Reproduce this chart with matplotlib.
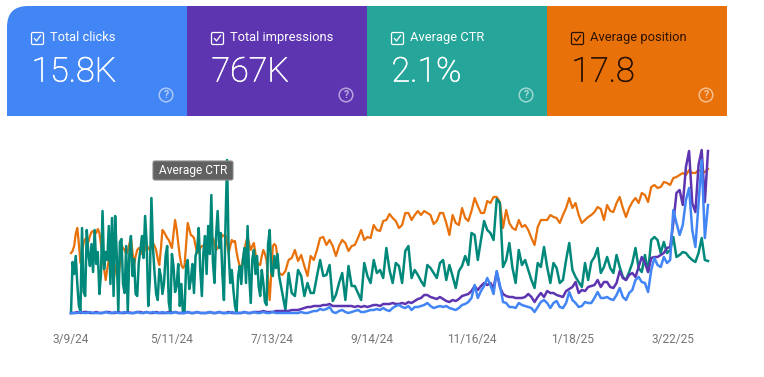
import matplotlib
matplotlib.use('Agg')
import matplotlib.pyplot as plt
import matplotlib.patheffects as pe
import numpy as np
import pandas as pd
from matplotlib.patches import FancyBboxPatch, PathPatch, Circle, Rectangle
from matplotlib.path import Path

plt.rcParams['font.family'] = ['Roboto', 'DejaVu Sans']

START = '2024-03-09'
END = '2025-04-13'

TICK_DATES = ['2024-03-09', '2024-05-11', '2024-07-13', '2024-09-14',
              '2024-11-16', '2025-01-18', '2025-03-22']
TICK_LABELS = ['3/9/24', '5/11/24', '7/13/24', '9/14/24', '11/16/24', '1/18/25', '3/22/25']

CARD_NAMES = ['Total clicks', 'Total impressions', 'Average CTR', 'Average position']
CARD_VALUES = ['15.8K', '767K', '2.1%', '17.8']
CARD_COLOURS = ['#4285F4', '#5E35B1', '#26A69A', '#E8710A']
CARD_TEXT = ['white', 'white', 'white', '#2b1200']

# each metric has its own scale in the original, values here are relative heights
clicks = [
    1, 1, 1, 2, 1, 1, 2, 1, 1, 1, 1, 2, 1, 1, 2, 1, 1, 2, 1, 1,
    1, 2, 1, 1, 2, 1, 2, 1, 1, 2, 1, 1, 1, 2, 1, 1, 1, 2, 1, 1,
    2, 1, 1, 1, 2, 1, 1, 2, 1, 1, 1, 2, 1, 1, 1, 2, 1, 1, 2, 1,
    1, 2, 1, 1, 2, 1, 1,
    1, 1, 1, 1, 1, 1, 2, 1, 1, 2, 3, 3, 5, 4, 5, 7, 2, 1, 3, 4,
    2, 1, 2, 3, 4, 2, 2, 3, 4, 4, 5, 4, 6, 4, 3, 6, 8, 9, 7, 6,
    8, 4, 7, 7, 8, 9, 11, 8, 6, 7, 8, 7, 8, 6, 5, 4, 6, 9, 10, 12,
    16, 29, 16, 23, 28, 36,
    29, 20, 43, 29, 12, 11, 7, 7, 6, 11, 9, 8, 7, 6, 2, 7, 12, 14, 11, 6,
    11, 13, 7, 6, 11, 22, 14, 11, 7, 8, 12, 11, 11, 16, 22, 16, 16, 17, 15, 14,
    19, 26, 17, 14, 21, 24, 34, 37, 32, 31, 22, 44, 56, 49, 47, 57, 51, 54, 104, 91,
    79, 89, 114, 126, 84, 67, 111, 154, 76, 109,
]
impressions = [
    1, 1, 2, 1, 2, 2, 1, 1, 2, 1, 1, 2, 2, 1, 1, 2, 1, 1, 2, 1,
    1, 2, 2, 1, 2, 1, 1, 2, 1, 1, 1, 2, 1, 2, 1, 1, 1, 2, 1, 1,
    2, 1, 1, 1, 2, 1, 1, 2, 1, 1, 2, 1, 1, 1, 1, 2, 1, 1, 2, 2,
    2, 3, 2, 2, 2, 3, 3,
    3, 3, 3, 4, 4, 4, 5, 6, 7, 7, 8, 8, 8, 9, 9, 10, 8, 8, 8, 8,
    8, 8, 8, 7, 8, 7, 8, 7, 8, 9, 9, 8, 10, 10, 10, 11, 10, 10, 11, 10,
    12, 11, 13, 15, 16, 19, 19, 17, 16, 15, 17, 15, 13, 12, 14, 13, 15, 18, 19, 20,
    23, 28, 24, 28, 31, 29,
    31, 26, 42, 27, 20, 18, 17, 17, 16, 16, 16, 17, 20, 17, 12, 17, 21, 17, 23, 21,
    21, 19, 18, 17, 23, 25, 27, 32, 21, 24, 23, 27, 28, 29, 34, 27, 32, 32, 27, 26,
    31, 43, 36, 34, 39, 41, 37, 47, 57, 51, 42, 56, 57, 57, 59, 61, 66, 67, 91, 121,
    124, 109, 147, 163, 111, 102, 149, 164, 112, 163,
]
# the first months of ctr and position are read at a finer step than the rest
ctr_early = [
    1, 52, 40, 58, 30, 8, 3, 86, 22, 18, 84, 60, 48, 70, 42, 84, 50, 62, 20, 40,
    103, 45, 62, 54, 88, 30, 96, 18, 98, 60, 2, 72, 75, 30, 21, 68, 2, 60, 78, 38,
    55, 20, 18, 52, 64, 78, 56, 98, 70, 8, 35, 116, 66, 41, 20, 14, 45, 38, 20, 31,
    58, 68, 12, 1, 60, 48, 22, 28, 50, 8, 30, 1, 2, 48, 54, 25, 34, 50, 21, 58,
    64, 86, 44, 18, 62, 78, 40, 88, 60, 119, 52, 31, 78, 103, 66, 81, 40, 14, 90, 154,
    60, 31, 44, 24, 8, 1, 38, 48, 30, 54, 66, 31, 88, 40, 11, 55, 64, 40, 58, 28,
    18, 44, 31, 12, 9, 70, 84, 42, 38, 58, 46, 60, 38,
]
ctr_late = [
    21, 4, 41, 21, 18, 44, 38, 18, 31, 21, 21, 38, 54, 38, 39, 49, 13, 19, 31, 41,
    14, 48, 28, 28, 21, 14, 51, 38, 31, 54, 41, 44, 36, 66, 44, 31, 51, 48, 31, 63,
    68, 36, 44, 39, 33, 28, 49, 46, 41, 36, 51, 54, 34, 49, 38, 26, 43, 48, 58, 49,
    81, 79, 54, 74, 93, 84,
    81, 74, 115, 111, 47, 54, 71, 46, 31, 64, 49, 54, 44, 34, 26, 51, 47, 67, 47, 31,
    51, 46, 31, 34, 54, 71, 44, 37, 32, 27, 51, 34, 52, 57, 66, 41, 47, 57, 46, 41,
    59, 47, 37, 34, 42, 51, 66, 46, 42, 59, 42, 74, 77, 74, 61, 72, 61, 64, 77, 57,
    59, 62, 61, 57, 54, 52, 61, 76, 54, 53,
]
position_early = [
    61, 63, 68, 80, 86, 70, 51, 62, 71, 75, 76, 72, 78, 82, 83, 80, 81, 85, 81, 70,
    58, 45, 34, 45, 54, 60, 58, 52, 48, 38, 33, 50, 69, 66, 64, 60, 63, 70, 76, 62,
    49, 58, 64, 66, 64, 60, 61, 65, 69, 66, 64, 68, 71, 68, 64, 55, 49, 65, 84, 82,
    79, 76, 74, 70, 66, 80, 94, 85, 71, 58, 49, 46, 48, 70, 91, 85, 79, 78, 76, 68,
    61, 62, 66, 68, 68, 70, 73, 73, 74, 75, 76, 70, 64, 66, 69, 75, 79, 78, 79, 70,
    61, 68, 74, 72, 73, 62, 54, 48, 44, 55, 64, 72, 77, 70, 64, 68, 71, 60, 51, 50,
    49, 58, 64, 60, 54, 35, 14, 40, 68, 70, 68, 55, 41,
]
position_late = [
    39, 43, 54, 56, 64, 53, 59, 48, 38, 58, 54, 64, 76, 77, 69, 74, 68, 58, 68, 74,
    71, 63, 68, 69, 76, 84, 74, 77, 76, 89, 84, 83, 93, 94, 100, 96, 93, 86, 89, 101,
    101, 94, 99, 103, 99, 103, 101, 99, 90, 93, 101, 101, 91, 79, 99, 91, 89, 106, 96, 93,
    103, 116, 108, 101, 101, 113,
    111, 117, 117, 112, 86, 104, 91, 86, 84, 94, 87, 89, 84, 76, 69, 87, 94, 94, 94, 99,
    97, 96, 91, 99, 106, 116, 106, 111, 99, 91, 94, 97, 99, 102, 107, 105, 94, 109, 103, 102,
    111, 117, 106, 97, 106, 112, 116, 111, 121, 119, 112, 127, 129, 126, 127, 132, 131, 129, 136, 137,
    139, 141, 139, 144, 141, 141, 144, 142, 142, 145,
]

dates = pd.date_range(START, END, periods=len(clicks))
split = len(clicks) - len(ctr_late) - 1
early_dates = pd.date_range(dates[0], dates[split], periods=len(ctr_early))
fine_dates = early_dates.append(dates[split + 1:])
ctr = np.array(ctr_early + ctr_late)
position = np.array(position_early + position_late)

fig = plt.figure(figsize=(7.64, 3.77), dpi=100)
W, H = 764, 377

ax = fig.add_axes([71 / W, (H - 314) / H, (708 - 71) / W, 165 / H])
ax.plot(fine_dates, position, color='#E8710A', lw=1.6, clip_on=False, zorder=2)
ax.plot(fine_dates, ctr, color='#00897B', lw=1.8, clip_on=False, zorder=3)
ax.plot(dates, impressions, color='#5E35B1', lw=1.8, clip_on=False, zorder=4)
ax.plot(dates, clicks, color='#4285F4', lw=1.8, clip_on=False, zorder=5)
ax.set_xlim(pd.Timestamp(START), pd.Timestamp(END))
ax.set_ylim(0, 165)
ax.set_yticks([])
ax.set_xticks(pd.to_datetime(TICK_DATES))
ax.set_xticklabels(TICK_LABELS, fontsize=8.6, color='#757575')
ax.tick_params(axis='x', length=0, pad=13.5)
for spine in ax.spines.values():
    spine.set_visible(False)
ax.patch.set_alpha(0)

# cards and tooltip go on an overlay in pixel coordinates
over = fig.add_axes([0, 0, 1, 1])
over.set_xlim(0, W)
over.set_ylim(H, 0)
over.axis('off')
over.patch.set_alpha(0)

r = 21
corner = Path(
    [(7, 116), (7, 6 + r), (7, 6), (7 + r, 6), (187, 6), (187, 116), (7, 116)],
    [Path.MOVETO, Path.LINETO, Path.CURVE3, Path.CURVE3, Path.LINETO, Path.LINETO, Path.CLOSEPOLY],
)
over.add_patch(PathPatch(corner, fc=CARD_COLOURS[0], ec='none'))

for i in range(4):
    x0 = 7 + 180 * i
    colour = CARD_TEXT[i]
    if i > 0:
        over.add_patch(Rectangle((x0, 6), 180, 110, fc=CARD_COLOURS[i], ec='none'))
    over.add_patch(FancyBboxPatch((x0 + 24.5, 32.5), 12, 12, boxstyle='round,pad=0,rounding_size=1.5',
                                  fc='none', ec=colour, lw=0.9))
    over.plot([x0 + 27.5, x0 + 29.5, x0 + 33.5], [38.5, 41, 35.5], color=colour, lw=0.9)
    over.text(x0 + 43, 37.5, CARD_NAMES[i], color=colour, fontsize=9.3, va='center', ha='left')
    num = over.text(x0 + 24.5, 72.5, CARD_VALUES[i], color=colour, fontsize=24.5, fontweight='light',
                    va='center', ha='left')
    num.set_path_effects([pe.withStroke(linewidth=0.45, foreground=colour)])
    over.add_patch(Circle((x0 + 159, 95), 6.8, fc='none', ec='white', lw=1.1, alpha=0.55))
    over.text(x0 + 159, 95.5, '?', color='white', alpha=0.6, fontsize=7.5, fontweight='bold',
              ha='center', va='center')

over.add_patch(FancyBboxPatch((153, 161), 80, 19, boxstyle='round,pad=0,rounding_size=2',
                              fc='#616161', ec='#8a8a8a', lw=0.8, zorder=10))
over.text(193, 170.5, 'Average CTR', color='white', fontsize=8.6, ha='center', va='center', zorder=11)

fig.savefig('out.png', dpi=100)
